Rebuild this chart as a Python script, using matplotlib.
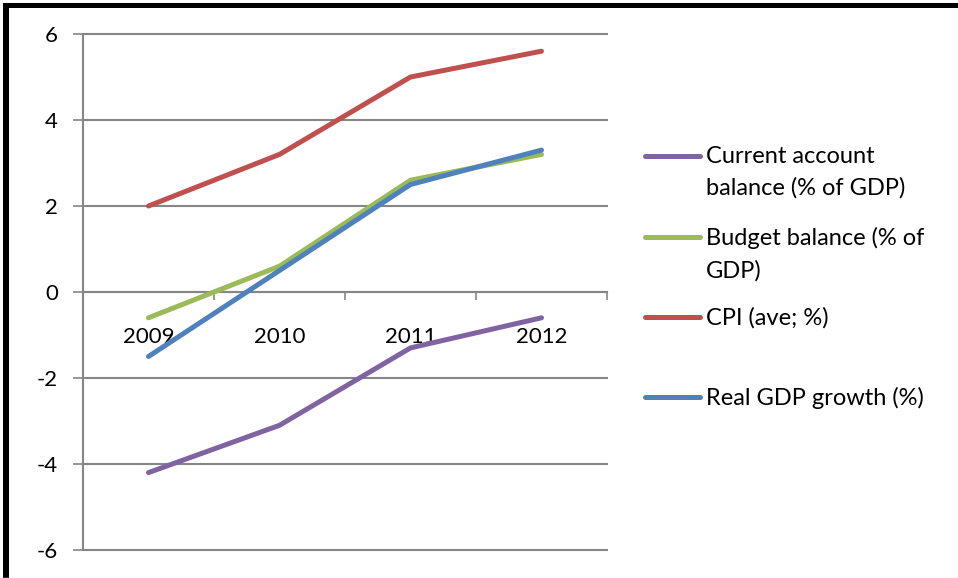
import matplotlib.pyplot as plt
from matplotlib.lines import Line2D
from matplotlib.patches import Rectangle
from matplotlib.ticker import FixedLocator, FuncFormatter

plt.rcParams['font.family'] = ['Lato', 'DejaVu Sans']

# data
years = ['2009', '2010', '2011', '2012']
current_account = [-4.2, -3.1, -1.3, -0.6]
budget_balance = [-0.6, 0.6, 2.6, 3.2]
cpi = [2.0, 3.2, 5.0, 5.6]
real_gdp = [-1.5, 0.5, 2.5, 3.3]

series_names = ['Current account\nbalance (% of GDP)', 'Budget balance (% of\nGDP)',
                'CPI (ave; %)', 'Real GDP growth (%)']
series_values = [current_account, budget_balance, cpi, real_gdp]
colors = ['#8064A2', '#9BBB59', '#C0504D', '#4F81BD']
yticks = [-6, -4, -2, 0, 2, 4, 6]

W, H = 958, 578
fig = plt.figure(figsize=(W / 100, H / 100), dpi=100)
ax = fig.add_axes([83 / W, (H - 550) / H, 524 / W, 516 / H])

x = list(range(len(years)))
for vals, c, name in zip(series_values, colors, series_names):
    ax.plot(x, vals, color=c, lw=3.6, solid_capstyle='round', label=name, zorder=3)

grid_c = '#868686'
ax.set_xlim(-0.5, len(years) - 0.5)
ax.set_ylim(-6, 6)
ax.set_yticks(yticks)
ax.yaxis.set_major_formatter(FuncFormatter(lambda v, p: '%d' % v))
ax.tick_params(axis='y', direction='out', length=7, width=1.2, color=grid_c,
               labelsize=16, pad=11)
for v in yticks:
    ax.axhline(v, color=grid_c, lw=1.5, zorder=1, clip_on=False)

# category axis crossing at zero
ax.spines['bottom'].set_position(('data', 0))
ax.spines['bottom'].set_color(grid_c)
ax.spines['bottom'].set_linewidth(1.5)
ax.xaxis.set_major_locator(FixedLocator([i - 0.5 for i in range(len(years) + 1)]))
ax.xaxis.set_major_formatter(FuncFormatter(lambda v, p: ''))
ax.xaxis.set_minor_locator(FixedLocator(x))
ax.xaxis.set_minor_formatter(FuncFormatter(lambda v, p: years[int(round(v))]))
ax.tick_params(axis='x', which='major', direction='out', length=6, width=1.2, color=grid_c)
ax.tick_params(axis='x', which='minor', length=0, labelsize=16, pad=25)

ax.spines['left'].set_color(grid_c)
ax.spines['left'].set_linewidth(1.5)
ax.spines['top'].set_visible(False)
ax.spines['right'].set_visible(False)

# legend
leg_y = [156, 237, 317, 397]
for name, c, yy in zip(series_names, colors, leg_y):
    fy = 1 - yy / H
    fig.add_artist(Line2D([645 / W, 700 / W], [fy, fy], color=c, lw=3.6,
                          solid_capstyle='round'))
    fig.text(706 / W, 1 - (yy - 10) / H, name, fontsize=17, va='top', ha='left',
             linespacing=1.6)

# frame edges from the source screenshot
fig.add_artist(Rectangle((3 / W, 0), 6 / W, 1 - 3 / H, transform=fig.transFigure,
                         color='black', lw=0))
fig.add_artist(Rectangle((3 / W, 1 - 8 / H), 1, 5 / H, transform=fig.transFigure,
                         color='black', lw=0))
fig.add_artist(Line2D([0, 1], [0.5 / H, 0.5 / H], color='#e8e8e8', lw=1))

fig.savefig('out.png', dpi=100)
